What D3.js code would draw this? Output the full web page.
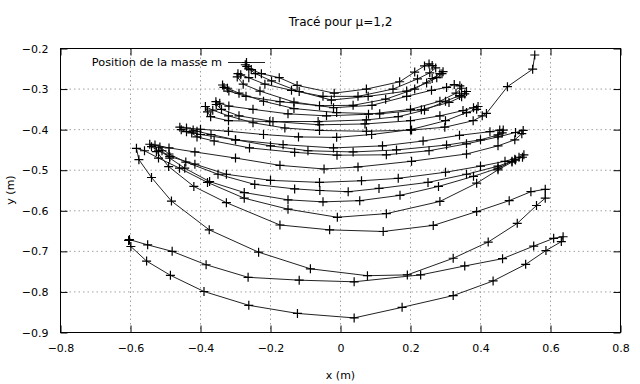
<!DOCTYPE html>
<html><head><meta charset="utf-8">
<script src="https://cdn.jsdelivr.net/npm/d3@7"></script>
<style>body{margin:0;background:#fff}text{font-family:"DejaVu Sans",sans-serif;font-size:11px;fill:#000}</style>
</head><body><svg id="c" width="640" height="384"></svg>
<script>
const titleText = "Tracé pour μ=1,2";
const legendLabel = "Position de la masse m";
const xLabel = "x (m)", yLabel = "y (m)";
const xTicks = [-0.8,-0.6,-0.4,-0.2,0,0.2,0.4,0.6,0.8];
const yTicks = [-0.2,-0.3,-0.4,-0.5,-0.6,-0.7,-0.8,-0.9];

// main trajectory (x, y)
const trajectory = [
[0.555,-0.216],[0.549,-0.251],[0.477,-0.294],[0.417,-0.360],
[0.405,-0.366],[0.379,-0.378],[0.298,-0.394],[0.203,-0.401],[0.074,-0.404],[-0.06,-0.402],[-0.159,-0.396],[-0.25,-0.383],[-0.32,-0.366],[-0.365,-0.352],[-0.386,-0.343],
[-0.380,-0.356],[-0.371,-0.368],[-0.32,-0.378],[-0.202,-0.380],[-0.064,-0.380],[0.074,-0.376],[0.165,-0.368],[0.24,-0.352],[0.30,-0.33],[0.34,-0.316],[0.36,-0.306],
[0.355,-0.312],[0.346,-0.319],[0.31,-0.333],[0.231,-0.351],[0.112,-0.361],[-0.011,-0.358],[-0.133,-0.348],[-0.22,-0.33],[-0.29,-0.31],[-0.323,-0.298],[-0.337,-0.290],
[-0.333,-0.296],[-0.319,-0.305],[-0.27,-0.318],[-0.173,-0.331],[-0.06,-0.341],[0.036,-0.340],[0.129,-0.325],[0.212,-0.300],[0.262,-0.274],[0.284,-0.262],[0.293,-0.257],
[0.290,-0.262],[0.275,-0.272],[0.246,-0.285],[0.189,-0.305],[0.079,-0.318],[-0.026,-0.327],[-0.118,-0.306],[-0.197,-0.280],[-0.243,-0.262],[-0.262,-0.250],[-0.272,-0.240],
[-0.268,-0.244],[-0.255,-0.252],[-0.226,-0.262],[-0.175,-0.272],[-0.124,-0.291],[-0.018,-0.310],[0.074,-0.300],[0.169,-0.282],[0.212,-0.258],[0.240,-0.243],[0.253,-0.238],
[0.262,-0.242],[0.272,-0.248],[0.255,-0.260],[0.22,-0.275],[0.15,-0.300],[0.05,-0.318],[-0.05,-0.318],[-0.14,-0.303],[-0.216,-0.288],[-0.262,-0.272],[-0.285,-0.265],[-0.293,-0.262],
[-0.295,-0.270],[-0.278,-0.288],[-0.23,-0.305],[-0.133,-0.332],[-0.02,-0.346],[0.09,-0.340],[0.189,-0.318],[0.26,-0.303],[0.303,-0.296],[0.325,-0.289],[0.341,-0.292],
[0.346,-0.298],[0.33,-0.310],[0.284,-0.330],[0.2,-0.350],[0.08,-0.362],[-0.04,-0.366],[-0.15,-0.361],[-0.25,-0.350],[-0.319,-0.342],[-0.345,-0.335],[-0.356,-0.331],
[-0.355,-0.338],[-0.34,-0.350],[-0.29,-0.366],[-0.193,-0.380],[-0.06,-0.388],[0.07,-0.386],[0.2,-0.378],[0.284,-0.366],[0.35,-0.353],[0.38,-0.346],[0.393,-0.343],
[0.389,-0.350],[0.36,-0.358],[0.30,-0.378],[0.2,-0.400],[0.089,-0.412],[-0.011,-0.419],[-0.12,-0.418],[-0.22,-0.412],[-0.32,-0.404],[-0.40,-0.399],[-0.44,-0.396],[-0.459,-0.394],
[-0.455,-0.400],[-0.44,-0.405],[-0.40,-0.412],[-0.30,-0.425],[-0.164,-0.437],[-0.02,-0.445],[0.12,-0.440],[0.236,-0.428],[0.34,-0.414],[0.427,-0.405],[0.455,-0.401],[0.465,-0.401],
[0.462,-0.408],[0.45,-0.413],[0.40,-0.425],[0.303,-0.438],[0.16,-0.450],[0.036,-0.455],[-0.093,-0.452],[-0.20,-0.440],[-0.30,-0.425],[-0.37,-0.412],[-0.41,-0.404],[-0.421,-0.401],
[-0.425,-0.408],[-0.41,-0.418],[-0.361,-0.428],[-0.26,-0.445],[-0.131,-0.456],[-0.01,-0.463],[0.131,-0.462],[0.253,-0.452],[0.36,-0.435],[0.45,-0.418],[0.50,-0.407],[0.522,-0.402],
[0.518,-0.410],[0.498,-0.425],[0.45,-0.440],[0.36,-0.460],[0.203,-0.478],[0.05,-0.492],[-0.047,-0.497],[-0.173,-0.488],[-0.30,-0.470],[-0.416,-0.455],[-0.49,-0.445],[-0.53,-0.438],[-0.545,-0.436],
[-0.540,-0.442],[-0.52,-0.452],[-0.488,-0.466],[-0.416,-0.485],[-0.326,-0.510],[-0.20,-0.525],[-0.06,-0.530],[0.06,-0.526],[0.165,-0.520],[0.30,-0.505],[0.40,-0.490],[0.47,-0.478],[0.51,-0.468],[0.524,-0.462],
[0.52,-0.468],[0.50,-0.475],[0.45,-0.490],[0.36,-0.510],[0.25,-0.530],[0.11,-0.545],[0.022,-0.553],[-0.059,-0.550],[-0.131,-0.546],[-0.245,-0.535],[-0.35,-0.510],[-0.442,-0.480],[-0.49,-0.460],[-0.516,-0.443],
[-0.51,-0.452],[-0.488,-0.470],[-0.445,-0.495],[-0.374,-0.528],[-0.275,-0.555],[-0.15,-0.573],[-0.05,-0.578],[0.055,-0.575],[0.17,-0.562],[0.28,-0.540],[0.38,-0.515],[0.45,-0.495],[0.49,-0.478],[0.498,-0.473],
[0.49,-0.480],[0.45,-0.499],[0.389,-0.532],[0.284,-0.577],[0.131,-0.607],[-0.009,-0.616],[-0.15,-0.596],[-0.275,-0.569],[-0.38,-0.530],[-0.46,-0.495],[-0.52,-0.470],[-0.56,-0.452],[-0.583,-0.446],
[-0.576,-0.474],[-0.540,-0.518],[-0.483,-0.576],[-0.375,-0.647],[-0.234,-0.702],[-0.086,-0.743],[0.077,-0.760],[0.191,-0.758],[0.322,-0.717],[0.422,-0.677],[0.505,-0.631],[0.56,-0.587],[0.585,-0.569],[0.585,-0.547],
[0.544,-0.553],[0.482,-0.575],[0.389,-0.602],[0.265,-0.636],[0.122,-0.651],[-0.031,-0.647],[-0.173,-0.635],[-0.326,-0.580],[-0.419,-0.540],[-0.491,-0.491],[-0.526,-0.454]
];

// lowest closed loop of the path
const finalLoop = [
[-0.605,-0.673],[-0.599,-0.688],[-0.554,-0.724],[-0.486,-0.759],[-0.39,-0.799],[-0.262,-0.833],[-0.123,-0.853],[0.039,-0.864],[0.176,-0.838],[0.322,-0.809],[0.436,-0.773],[0.529,-0.732],[0.587,-0.698],[0.631,-0.676],[0.636,-0.664],
[0.609,-0.668],[0.552,-0.687],[0.463,-0.718],[0.355,-0.736],[0.229,-0.758],[0.039,-0.775],[-0.118,-0.771],[-0.264,-0.764],[-0.384,-0.733],[-0.481,-0.700],[-0.551,-0.684],[-0.603,-0.671],[-0.605,-0.673]
];

const svg = d3.select("#c");
const L = 60.5, R = 620.5, T = 48.5, B = 332.5;
const x = d3.scaleLinear().domain([-0.8, 0.8]).range([L, R]);
const y = d3.scaleLinear().domain([-0.2, -0.9]).range([T, B]);

// grid
const g = svg.append("g");
xTicks.slice(1, -1).forEach(v => g.append("line").attr("x1", x(v)).attr("x2", x(v)).attr("y1", T).attr("y2", B)
  .attr("stroke", "#a0a0a0").attr("stroke-dasharray", "1.5,3").attr("stroke-width", 1));
yTicks.slice(1, -1).forEach(v => g.append("line").attr("x1", L).attr("x2", R).attr("y1", y(v)).attr("y2", y(v))
  .attr("stroke", "#a0a0a0").attr("stroke-dasharray", "1.5,3").attr("stroke-width", 1));

// axes with inward ticks
const fmt = d => d === 0 ? "0" : d3.format(".1f")(d);
const ax = [
  [d3.axisBottom(x).tickValues(xTicks).tickSize(-7).tickPadding(12).tickFormat(fmt), `translate(0,${B})`],
  [d3.axisTop(x).tickValues(xTicks).tickSize(-7).tickFormat(""), `translate(0,${T})`],
  [d3.axisLeft(y).tickValues(yTicks).tickSize(-7).tickPadding(12).tickFormat(fmt), `translate(${L},0)`],
  [d3.axisRight(y).tickValues(yTicks).tickSize(-7).tickFormat(""), `translate(${R},0)`]
];
ax.forEach(([a, tr]) => {
  const s = svg.append("g").attr("transform", tr).call(a);
  s.select(".domain").remove();
  s.selectAll("line").attr("stroke", "#000");
  s.selectAll("text").attr("font-family", "DejaVu Sans").attr("font-size", 11).attr("fill", "#000");
});
svg.append("rect").attr("x", L).attr("y", T).attr("width", R - L).attr("height", B - T)
  .attr("fill", "none").attr("stroke", "#000").attr("stroke-width", 1);

// title and labels
svg.append("text").attr("x", 340.5).attr("y", 26).attr("text-anchor", "middle").style("font-size", "12px").text(titleText);
svg.append("text").attr("x", 340.5).attr("y", 379).attr("text-anchor", "middle").text(xLabel);
svg.append("text").attr("transform", "translate(14,190) rotate(-90)").attr("text-anchor", "middle").text(yLabel);

// data
const line = d3.line().x(d => x(d[0])).y(d => y(d[1]));
const plot = svg.append("g");
[trajectory, finalLoop].forEach(ser => {
  plot.append("path").attr("d", line(ser)).attr("fill", "none").attr("stroke", "#222").attr("stroke-width", 1);
});
const cross = "M-4.5,0H4.5M0,-4.5V4.5";
[trajectory, finalLoop].forEach(ser => {
  plot.selectAll(null).data(ser).enter().append("path")
    .attr("transform", d => `translate(${x(d[0])},${y(d[1])})`)
    .attr("d", cross).attr("stroke", "#000").attr("stroke-width", 1.2).attr("fill", "none");
});

// legend
svg.append("text").attr("x", 222).attr("y", 66).attr("text-anchor", "end").style("font-size", "11.3px").text(legendLabel);
svg.append("line").attr("x1", 228).attr("x2", 265).attr("y1", 62.5).attr("y2", 62.5).attr("stroke", "#222");
svg.append("path").attr("transform", "translate(246.5,62.5)").attr("d", cross).attr("stroke", "#000").attr("stroke-width", 1.2);
</script></body></html>
